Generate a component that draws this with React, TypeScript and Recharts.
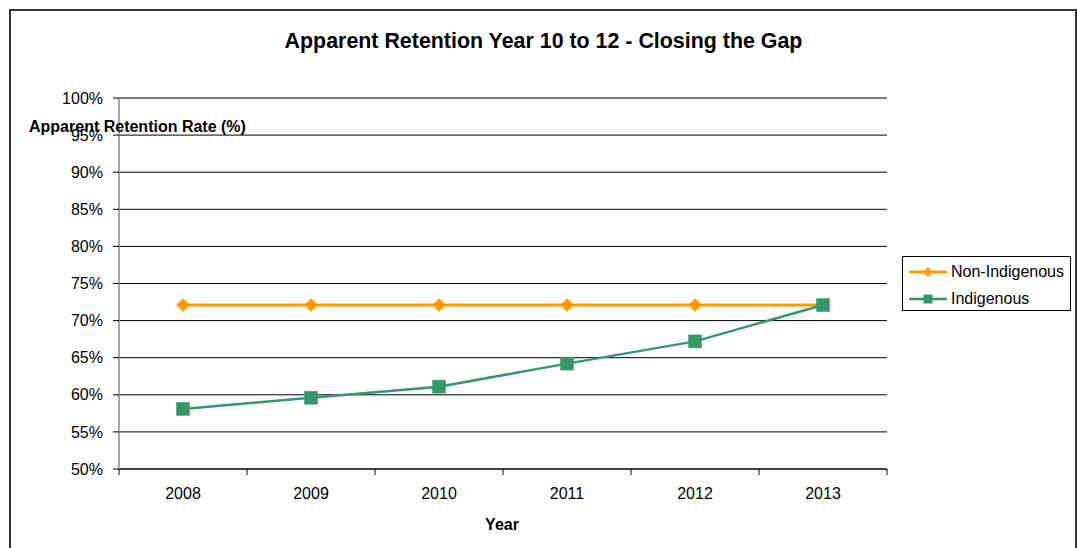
import React from 'react';
import { LineChart, Line, XAxis, YAxis, CartesianGrid } from 'recharts';

const categories = ['2008', '2009', '2010', '2011', '2012', '2013'];
const nonIndigenous = [72.1, 72.1, 72.1, 72.1, 72.1, 72.1];
const indigenous = [58.1, 59.6, 61.1, 64.2, 67.2, 72.1];
const yTicks = [50, 55, 60, 65, 70, 75, 80, 85, 90, 95, 100];
const chartTitle = 'Apparent Retention Year 10 to 12 - Closing the Gap';
const yAxisTitle = 'Apparent Retention Rate (%)';
const xAxisTitle = 'Year';

const series = [
  { key: 'nonIndigenous', name: 'Non-Indigenous', color: '#FF9900', width: 3, marker: 'diamond' },
  { key: 'indigenous', name: 'Indigenous', color: '#339966', width: 2.5, marker: 'square' },
];

const data = categories.map((c, i) => ({
  pos: i + 0.5,
  year: c,
  nonIndigenous: nonIndigenous[i],
  indigenous: indigenous[i],
}));

const xTicks: number[] = categories.flatMap((_, i) => [i, i + 0.5]).concat([categories.length]);

const FONT = '"Liberation Sans", Arial, Helvetica, sans-serif';
const TS = 6;
const TM = 13;

const XTick = (props: any) => {
  const { x, y, payload } = props;
  const v = payload.value;
  if (Number.isInteger(v)) {
    return (
      <g>
        <line x1={x} x2={x} y1={y - TM - TS} y2={y - TM} stroke="#000" strokeWidth={1} />
      </g>
    );
  }
  return (
    <g>
      <text x={x} y={y} dy="0.71em" textAnchor="middle" fontSize={16} fontFamily={FONT} fill="#000">
        {categories[Math.floor(v)]}
      </text>
    </g>
  );
};

const markerPath = (m: string, cx: number, cy: number, s: number) => {
  if (m === 'diamond') return `M${cx},${cy - s}L${cx + s},${cy}L${cx},${cy + s}L${cx - s},${cy}Z`;
  return `M${cx - s},${cy - s}L${cx + s},${cy - s}L${cx + s},${cy + s}L${cx - s},${cy + s}Z`;
};

const makeDot = (m: string, color: string, s: number) => (props: any) => {
  const { cx, cy, index } = props;
  if (cx == null || cy == null) return <g key={`e${index}`} />;
  return <path key={`${m}${index}`} d={markerPath(m, cx, cy, s)} fill={color} stroke={color} strokeWidth={0.5} />;
};

export default function App() {
  return (
    <div style={{ position: 'absolute', left: 0, top: 0, width: 1077, height: 548, overflow: 'hidden', background: '#fff', fontFamily: FONT }}>
      <div style={{ position: 'absolute', left: 9, top: 9, width: 1064, height: 600, border: '2px solid #333' }} />
      <LineChart
        width={1077}
        height={548}
        data={data}
        margin={{ top: 98, right: 190, bottom: 49, left: 0 }}
        style={{ position: 'absolute', left: 0, top: 0 }}
      >
        <CartesianGrid vertical={false} stroke="#000" strokeWidth={1} />
        <XAxis
          dataKey="pos"
          type="number"
          domain={[0, categories.length]}
          ticks={xTicks}
          interval={0}
          tick={<XTick />}
          tickLine={false}
          tickSize={TS}
          tickMargin={TM}
          axisLine={{ stroke: '#000', strokeWidth: 1 }}
          height={30}
          allowDecimals
        />
        <YAxis
          type="number"
          domain={[50, 100]}
          ticks={yTicks}
          interval={0}
          width={119}
          tickFormatter={(v: number) => `${v}%`}
          tick={{ fontSize: 16, fontFamily: FONT, fill: '#000' }}
          tickLine={{ stroke: '#000' }}
          tickSize={TS}
          tickMargin={10}
          axisLine={{ stroke: '#888', strokeWidth: 1.5 }}
        />
        {series.map((s) => (
          <Line
            key={s.key}
            dataKey={s.key}
            name={s.name}
            type="linear"
            stroke={s.color}
            strokeWidth={s.width}
            dot={makeDot(s.marker, s.color, 6.5)}
            activeDot={false}
            isAnimationActive={false}
          />
        ))}
      </LineChart>
      <div style={{ position: 'absolute', left: 0, width: 1087, top: 26, textAlign: 'center', fontSize: 21.4, fontWeight: 'bold', lineHeight: '30px', color: '#000' }}>
        {chartTitle}
      </div>
      <div style={{ position: 'absolute', left: 29, top: 117, fontSize: 16, fontWeight: 'bold', lineHeight: '20px', whiteSpace: 'nowrap', color: '#000' }}>
        {yAxisTitle}
      </div>
      <div style={{ position: 'absolute', left: 402, width: 200, top: 514, textAlign: 'center', fontSize: 16, fontWeight: 'bold', lineHeight: '22px', color: '#000' }}>
        {xAxisTitle}
      </div>
      <div style={{ position: 'absolute', left: 902, top: 256, width: 167, height: 53, border: '1px solid #000', background: '#fff' }}>
        {series.map((s, i) => (
          <div key={s.key} style={{ position: 'absolute', left: 5, top: 4 + i * 27, height: 22, display: 'flex', alignItems: 'center' }}>
            <svg width={40} height={22} style={{ display: 'block' }}>
              <line x1={1} x2={39} y1={11} y2={11} stroke={s.color} strokeWidth={s.width} />
              <path d={markerPath(s.marker, 20, 11, s.marker === 'diamond' ? 5 : 4.5)} fill={s.color} />
            </svg>
            <span style={{ fontSize: 16, lineHeight: '22px', marginLeft: 3, whiteSpace: 'nowrap', color: '#000' }}>{s.name}</span>
          </div>
        ))}
      </div>
    </div>
  );
}
